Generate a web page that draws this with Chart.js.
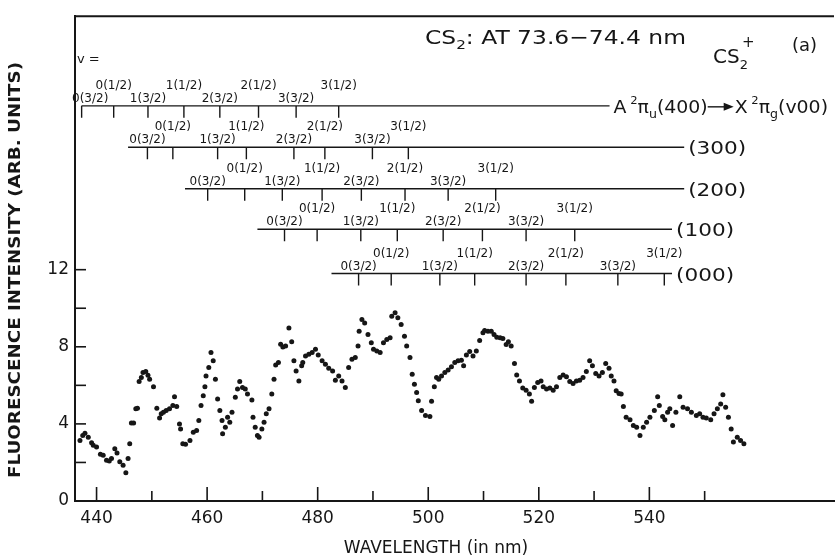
<!DOCTYPE html>
<html>
<head>
<meta charset="utf-8">
<script src="https://cdn.jsdelivr.net/npm/chart.js@4.4.0/dist/chart.umd.min.js"></script>
<style>
  html, body { margin: 0; padding: 0; background: #fff; }
  #wrap { width: 838px; height: 558px; }
</style>
</head>
<body>
<div id="wrap"><canvas id="spectrum" width="838" height="558"></canvas></div>
<script>
// fluorescence spectrum, values
const wavelength = [
  437.0, 437.5, 437.9, 438.5, 439.1, 439.4, 440.0, 440.7, 441.2, 441.8, 442.3, 442.7, 443.3, 443.7, 444.2,
  444.8, 445.3, 445.7, 446.0, 446.3, 446.7, 447.1, 447.4, 447.7, 448.1, 448.4, 448.9, 449.3, 449.6, 450.3,
  450.9, 451.4, 451.7, 452.1, 452.6, 453.2, 453.8, 454.1, 454.5, 455.0, 455.2, 455.6, 456.1, 456.9, 457.5,
  458.1, 458.5, 458.9, 459.3, 459.6, 459.8, 460.3, 460.7, 461.1, 461.5, 461.9, 462.3, 462.7, 462.8, 463.3,
  463.7, 464.1, 464.5, 465.1, 465.5, 465.9, 466.4, 466.9, 467.3, 468.1, 468.3, 468.7, 469.1, 469.4, 469.9,
  470.3, 470.7, 471.2, 471.7, 472.1, 472.4, 472.9, 473.3, 473.7, 474.2, 474.8, 475.3, 475.7, 476.1, 476.6,
  477.1, 477.3, 477.8, 478.4, 479.0, 479.6, 480.1, 480.8, 481.4, 482.0, 482.7, 483.2, 483.8, 484.4, 485.0,
  485.6, 486.2, 486.8, 487.3, 487.5, 488.0, 488.5, 489.1, 489.7, 490.1, 490.7, 491.3, 491.9, 492.5, 493.1,
  493.4, 494.0, 494.5, 495.1, 495.7, 496.1, 496.7, 497.1, 497.5, 497.9, 498.2, 498.8, 499.5, 500.3, 500.6,
  501.1, 501.5, 501.9, 502.4, 503.0, 503.6, 504.2, 504.8, 505.4, 506.0, 506.4, 506.9, 507.5, 508.1, 508.7,
  509.3, 509.9, 510.2, 510.8, 511.4, 511.9, 512.4, 513.0, 513.5, 514.1, 514.5, 515.0, 515.6, 516.0, 516.5,
  517.1, 517.7, 518.3, 518.7, 519.2, 519.8, 520.4, 520.8, 521.4, 522.0, 522.6, 523.2, 523.8, 524.4, 525.0,
  525.6, 526.2, 526.8, 527.4, 528.0, 528.6, 529.2, 529.7, 530.3, 530.9, 531.5, 532.1, 532.7, 533.1, 533.6,
  534.0, 534.5, 534.9, 535.3, 535.8, 536.5, 537.1, 537.7, 538.3, 538.9, 539.5, 540.1, 540.9, 541.5, 541.8,
  542.4, 542.8, 543.3, 543.7, 544.2, 544.8, 545.5, 546.1, 546.9, 547.6, 548.5, 549.1, 549.7, 550.3, 551.1,
  551.7, 552.3, 552.9, 553.3, 553.8, 554.3, 554.8, 555.2, 555.9, 556.5, 557.1
];
const intensity = [
  3.14, 3.40, 3.52, 3.31, 3.02, 2.89, 2.80, 2.42, 2.37, 2.11, 2.08, 2.20, 2.71, 2.49, 2.03,
  1.85, 1.46, 2.20, 2.97, 4.04, 4.04, 4.78, 4.81, 6.20, 6.41, 6.67, 6.72, 6.53, 6.32, 5.93,
  4.81, 4.31, 4.52, 4.60, 4.69, 4.78, 4.95, 5.41, 4.90, 4.00, 3.74, 2.97, 2.94, 3.14, 3.57,
  3.66, 4.17, 4.95, 5.46, 5.93, 6.49, 6.92, 7.70, 7.27, 6.32, 5.29, 4.69, 4.17, 3.49, 3.83,
  4.35, 4.09, 4.60, 5.38, 5.81, 6.20, 5.89, 5.81, 5.55, 5.24, 4.35, 3.83, 3.40, 3.31, 3.74,
  4.09, 4.52, 4.78, 5.55, 6.32, 7.06, 7.18, 8.13, 7.99, 8.04, 8.98, 8.26, 7.27, 6.75, 6.23,
  7.01, 7.18, 7.52, 7.61, 7.70, 7.87, 7.58, 7.27, 7.09, 6.89, 6.75, 6.27, 6.49, 6.23, 5.89,
  6.92, 7.35, 7.44, 8.04, 8.81, 9.41, 9.24, 8.64, 8.21, 7.87, 7.78, 7.70, 8.21, 8.38, 8.47,
  9.59, 9.76, 9.50, 9.16, 8.55, 8.04, 7.44, 6.58, 6.06, 5.63, 5.20, 4.69, 4.43, 4.38, 5.17,
  5.93, 6.41, 6.32, 6.49, 6.67, 6.79, 6.96, 7.18, 7.27, 7.30, 7.01, 7.58, 7.75, 7.52, 7.78,
  8.33, 8.73, 8.85, 8.81, 8.81, 8.64, 8.50, 8.47, 8.43, 8.12, 8.26, 8.04, 7.13, 6.54, 6.23,
  5.86, 5.75, 5.55, 5.17, 5.89, 6.15, 6.23, 5.93, 5.81, 5.86, 5.75, 5.93, 6.41, 6.54, 6.44,
  6.20, 6.10, 6.23, 6.27, 6.41, 6.72, 7.27, 7.01, 6.61, 6.49, 6.67, 7.13, 6.89, 6.49, 6.23,
  5.72, 5.58, 5.55, 4.90, 4.35, 4.21, 3.92, 3.83, 3.40, 3.83, 4.09, 4.35, 4.69, 5.41, 4.95,
  4.38, 4.21, 4.60, 4.78, 3.92, 4.60, 5.41, 4.86, 4.78, 4.60, 4.43, 4.52, 4.35, 4.31, 4.21,
  4.52, 4.78, 5.03, 5.51, 4.86, 4.35, 3.74, 3.06, 3.31, 3.14, 2.97
];

const xLabelTicks = [440, 460, 480, 500, 520, 540];
const xMinorTicks = [450, 470, 490, 510, 530, 550];
const yLabelTicks = [0, 4, 8, 12];
const yMinorTicks = [2, 6, 10];

// CS2+ band progressions: A(400) -> X(v00), one row per v
const progNames = ['(400)', '(300)', '(200)', '(100)', '(000)'];
const progLevel = [20.5, 18.35, 16.2, 14.1, 11.8];
const progStart = [437.3, 445.7, 456.0, 469.1, 482.5];
const progEnd = [532.8, 546.3, 546.3, 544.1, 544.1];
const progBands = [
  [437.3, 443.1, 449.3, 455.8, 462.3, 469.3, 476.1, 483.8],
  [449.2, 453.8, 461.9, 467.1, 475.7, 481.3, 489.9, 496.4],
  [460.1, 466.8, 473.6, 480.8, 487.9, 495.8, 503.6, 512.2],
  [474.0, 479.9, 487.8, 494.4, 502.7, 509.8, 517.7, 526.5],
  [487.4, 493.3, 502.1, 508.4, 517.7, 524.9, 534.3, 542.7]
];
const bandLabels = ['0(3/2)', '0(1/2)', '1(3/2)', '1(1/2)', '2(3/2)', '2(1/2)', '3(3/2)', '3(1/2)'];

const ink = '#161616';
const TICK_DROP = 0.62;

function ladderData(r) {
  const lvl = progLevel[r];
  const pts = [{x: progStart[r], y: lvl}, {x: progEnd[r], y: lvl}, {x: progEnd[r], y: null}];
  progBands[r].forEach(b => {
    pts.push({x: b, y: lvl}, {x: b, y: lvl - TICK_DROP}, {x: b, y: null});
  });
  return pts;
}

const datasets = [{
  type: 'scatter',
  data: wavelength.map((w, i) => ({x: w, y: intensity[i]})),
  pointRadius: 2.5,
  pointBackgroundColor: ink,
  pointBorderWidth: 0
}];
progLevel.forEach((lvl, r) => {
  datasets.push({
    type: 'line',
    data: ladderData(r),
    borderColor: ink,
    borderWidth: 1.4,
    pointRadius: 0,
    spanGaps: false,
    tension: 0
  });
});

function seg(ctx, x1, y1, x2, y2) {
  ctx.beginPath();
  ctx.moveTo(x1, y1);
  ctx.lineTo(x2, y2);
  ctx.stroke();
}

// draws a run of [text, size, dy] pieces left to right, squeezed/stretched by sx
function pieces(ctx, x, y, parts, sx = 1) {
  ctx.save();
  ctx.translate(x, y);
  ctx.scale(sx, 1);
  let cx = 0;
  parts.forEach(([t, size, dy]) => {
    ctx.font = size + 'px "DejaVu Sans"';
    ctx.fillText(t, cx, dy);
    cx += ctx.measureText(t).width;
  });
  ctx.restore();
  return x + cx * sx;
}

const decor = {
  id: 'decor',
  afterDraw(chart) {
    const {ctx, chartArea: a} = chart;
    const x = chart.scales.x, y = chart.scales.y;
    ctx.save();
    ctx.strokeStyle = ink;
    ctx.fillStyle = ink;

    // top frame
    ctx.lineWidth = 2;
    seg(ctx, a.left - 1, a.top, a.right, a.top);

    // inward ticks
    ctx.lineWidth = 1.6;
    xLabelTicks.forEach(v => { const p = x.getPixelForValue(v); seg(ctx, p, a.bottom, p, a.bottom - 14); });
    xMinorTicks.forEach(v => { const p = x.getPixelForValue(v); seg(ctx, p, a.bottom, p, a.bottom - 10); });
    yLabelTicks.concat(yMinorTicks).forEach(v => {
      if (v === 0) return;
      const p = y.getPixelForValue(v);
      seg(ctx, a.left, p, a.left + 11, p);
    });

    // band labels above each ladder
    ctx.textAlign = 'center';
    ctx.textBaseline = 'alphabetic';
    ctx.font = '12px "DejaVu Sans"';
    progBands.forEach((bands, r) => {
      const py = y.getPixelForValue(progLevel[r]);
      bands.forEach((b, i) => {
        let px = x.getPixelForValue(b);
        const w = ctx.measureText(bandLabels[i]).width;
        if (px - w / 2 < a.left - 3) px = a.left - 3 + w / 2;
        ctx.fillText(bandLabels[i], px, py - (i % 2 === 0 ? 4 : 17));
      });
    });

    // row names on the right
    ctx.textAlign = 'left';
    progNames.forEach((name, r) => {
      if (r === 0) return;
      const px = x.getPixelForValue(progEnd[r]) + 4;
      pieces(ctx, px, y.getPixelForValue(progLevel[r]) + 7, [[name, 18, 0]], 1.2);
    });
    const y0 = y.getPixelForValue(progLevel[0]) + 7;
    let cx = x.getPixelForValue(progEnd[0]) + 4;
    cx = pieces(ctx, cx, y0, [['A', 18, 0], [' 2', 11, -9], ['\u03c0', 18, 0], ['u', 12, 5], ['(400)', 18, 0]], 1.05);
    ctx.lineWidth = 1.4;
    seg(ctx, cx, y0 - 6, cx + 19, y0 - 6);
    ctx.beginPath();
    ctx.moveTo(cx + 26, y0 - 6); ctx.lineTo(cx + 16, y0 - 10); ctx.lineTo(cx + 16, y0 - 2); ctx.closePath(); ctx.fill();
    pieces(ctx, cx + 27, y0, [['X', 18, 0], [' 2', 11, -9], ['\u03c0', 18, 0], ['g', 12, 5], ['(v00)', 18, 0]], 1.05);

    // title and tags
    pieces(ctx, 425, 44, [['CS', 20, 0], ['2', 13, 5], [': AT 73.6\u221274.4 nm', 20, 0]], 1.17);
    pieces(ctx, 713, 63, [['CS', 20, 0], ['2', 13, 6]]);
    ctx.font = '15px "DejaVu Sans"';
    ctx.fillText('+', 742, 47);
    ctx.font = '18px "DejaVu Sans"';
    ctx.fillText('(a)', 792, 51);
    ctx.font = '13px "DejaVu Sans"';
    ctx.fillText('v =', 77, 63);

    // axis titles
    ctx.textAlign = 'center';
    ctx.textBaseline = 'middle';
    ctx.font = 'bold 15px "DejaVu Sans"';
    const yTitle = 'FLUORESCENCE INTENSITY (ARB. UNITS)';
    ctx.save();
    ctx.translate(16, 270);
    ctx.rotate(-Math.PI / 2);
    ctx.scale(416 / ctx.measureText(yTitle).width, 1);
    ctx.fillText(yTitle, 0, 0);
    ctx.restore();
    ctx.font = '17px "DejaVu Sans"';
    ctx.fillText('WAVELENGTH (in nm)', 436, 549);

    ctx.restore();
  }
};

new Chart(document.getElementById('spectrum'), {
  data: {datasets: datasets},
  options: {
    responsive: false,
    animation: false,
    devicePixelRatio: 1,
    layout: {padding: {top: 13, right: 0, left: 0, bottom: 0}},
    plugins: {legend: {display: false}, tooltip: {enabled: false}},
    scales: {
      x: {
        type: 'linear',
        min: 436.1,
        max: 573.4,
        grid: {display: false, drawTicks: false},
        border: {display: true, color: ink, width: 2},
        afterBuildTicks: s => { s.ticks = xLabelTicks.map(v => ({value: v})); },
        afterFit: s => { s.height = 57; },
        ticks: {autoSkip: false, maxRotation: 0, padding: 7, color: ink, font: {family: 'DejaVu Sans', size: 17}}
      },
      y: {
        type: 'linear',
        min: 0,
        max: 25.15,
        grid: {display: false, drawTicks: false},
        border: {display: true, color: ink, width: 2},
        afterBuildTicks: s => { s.ticks = yLabelTicks.map(v => ({value: v})); },
        afterFit: s => { s.width = 75; },
        ticks: {padding: 6, color: ink, font: {family: 'DejaVu Sans', size: 17}}
      }
    }
  },
  plugins: [decor]
});
</script>
</body>
</html>
